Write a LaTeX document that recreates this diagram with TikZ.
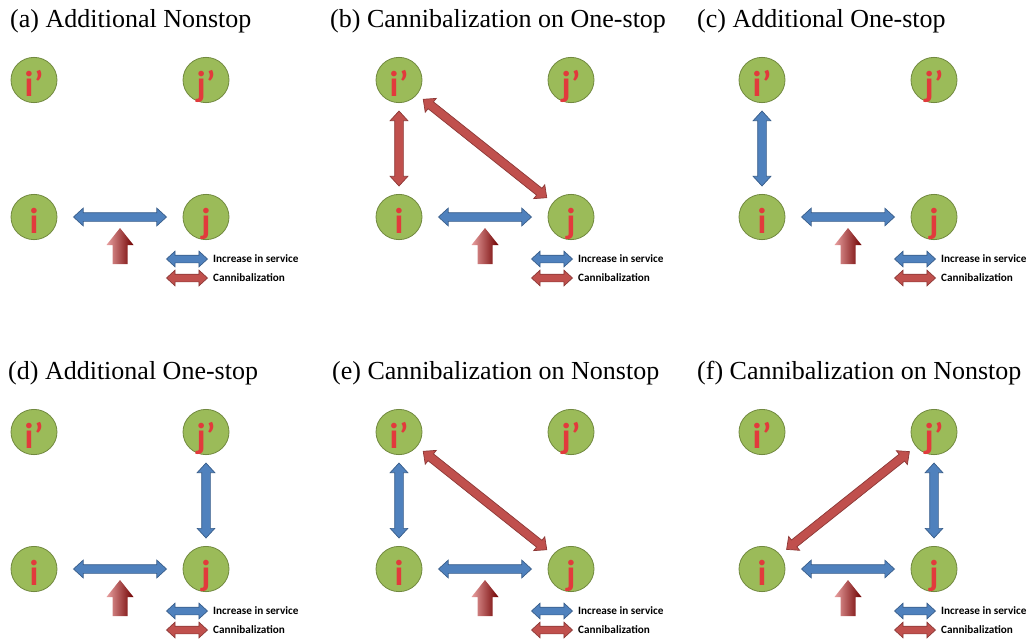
\documentclass[tikz,border=0pt]{standalone}
\usepackage{fontspec}
\setmainfont{Liberation Serif}
\newfontfamily\calib{Carlito}
\usetikzlibrary{shapes.geometric,shapes.arrows,positioning}
\definecolor{nodegreen}{HTML}{9BBB59}
\definecolor{nodeline}{HTML}{71893F}
\definecolor{serviceblue}{HTML}{4F81BD}
\definecolor{serviceline}{HTML}{385D8A}
\definecolor{cannired}{HTML}{C0504D}
\definecolor{canniline}{HTML}{8C3836}
\definecolor{letterred}{HTML}{E23A3C}
\definecolor{uppale}{HTML}{E8A0A0}
\definecolor{upmid}{HTML}{E00000}
\definecolor{updark}{HTML}{700000}

\begin{document}
\begin{tikzpicture}[x=1pt,y=-1pt]
\tikzstyle{airport}=[ellipse,draw=nodeline,fill=nodegreen,line width=0.8pt,minimum width=46pt,minimum height=42pt,inner sep=0pt,text=letterred,text height=32pt,text depth=-9pt,font=\calib\bfseries\fontsize{36}{36}\selectfont]
\tikzstyle{dbl}=[double arrow,inner xsep=0pt,inner ysep=4pt,minimum width=17pt,double arrow head extend=4.5pt,double arrow tip angle=85,line width=0.7pt]
\tikzstyle{service}=[dbl,fill=serviceblue,draw=serviceline]
\tikzstyle{canni}=[dbl,fill=cannired,draw=canniline]
\tikzstyle{small}=[inner ysep=3.5pt,minimum width=15pt,double arrow head extend=4pt,minimum height=41pt]
\tikzstyle{legend}=[anchor=west,inner sep=0pt,font=\calib\bfseries\fontsize{11.2}{12}\selectfont]
\tikzstyle{title}=[anchor=base west,inner sep=0pt,font=\fontsize{26}{28}\selectfont]

\useasboundingbox (0,0) rectangle (1033,643);

% common part of every panel
\foreach \p/\ox/\oy/\tx/\name in {a/0/0/10/(a) Additional Nonstop,
    b/365/0/-35/(b) Cannibalization on One-stop,
    c/728/0/-31/(c) Additional One-stop,
    d/0/352/8/(d) Additional One-stop,
    e/365/352/-33/(e) Cannibalization on Nonstop,
    f/728/352/-31/(f) Cannibalization on Nonstop}{
  \begin{scope}[shift={(\ox,\oy)}]
    \node[title] (\p-title) at (\tx,27) {\name};
    \node[airport] (\p-ip) at (34,80) {i’};
    \node[airport] (\p-jp) at (206,80) {j’};
    \node[airport] (\p-i) at (34,217) {i};
    \node[airport] (\p-j) at (206,217) {j};
    \path (\p-i) -- node[service,sloped,minimum height=93pt] {} (\p-j);
    \shade[left color=uppale,middle color=upmid,right color=updark]
      (112.5,264) -- (112.5,245) -- (106.5,245) -- (120,228) -- (133.5,245)
      -- (127.5,245) -- (127.5,264) -- cycle;
    \node[service,small] (\p-lb) at (187,259) {};
    \node[canni,small] (\p-lr) at (187,278) {};
    \node[legend,right=5pt of \p-lb] {Increase in service};
    \node[legend,right=5pt of \p-lr] {Cannibalization};
  \end{scope}
}

% arrows of each panel
\path (b-ip) -- node[canni,sloped,minimum height=75pt] {} (b-i);
\path (b-ip) -- node[canni,sloped,minimum height=158pt] {} (b-j);
\path (c-ip) -- node[service,sloped,minimum height=75pt] {} (c-i);
\path (d-jp) -- node[service,sloped,minimum height=75pt] {} (d-j);
\path (e-ip) -- node[service,sloped,minimum height=75pt] {} (e-i);
\path (e-ip) -- node[canni,sloped,minimum height=158pt] {} (e-j);
\path (f-jp) -- node[canni,sloped,minimum height=157pt] {} (f-i);
\path (f-jp) -- node[service,sloped,minimum height=75pt] {} (f-j);
\end{tikzpicture}
\end{document}
